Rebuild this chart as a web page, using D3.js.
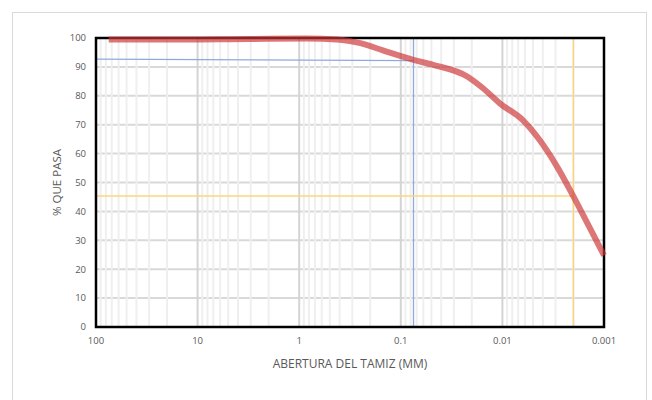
<!DOCTYPE html>
<html>
<head>
<meta charset="utf-8">
<script src="https://cdn.jsdelivr.net/npm/d3@7"></script>
<style>
  body { margin: 0; background: #fff; }
  svg { display: block; font-family: "Open Sans", "Liberation Sans", sans-serif; }
</style>
</head>
<body>
<div id="chart"></div>
<script>
// grain size curve (mm vs % passing)
const sizes = [75, 50, 37.5, 25, 19, 9.5, 4.75, 2, 0.85, 0.425, 0.25, 0.15, 0.075,
    0.048, 0.022, 0.0155, 0.0106, 0.0063, 0.0043, 0.0029, 0.002, 0.0014, 0.001];
const pasa = [99.5, 99.5, 99.5, 99.5, 99.5, 99.5, 99.6, 99.7, 99.8, 99.5, 98.2, 95.7, 92.4,
    90.7, 86.6, 82.6, 77.4, 71.6, 64.7, 55.5, 45.2, 34.7, 24.8];

// reference lines
const blueX = [100, 0.075];
const blueY = [92.7, 92.2];
const yellowSize = 0.002;
const yellowPasa = 45.3;

const xTicks = [100, 10, 1, 0.1, 0.01, 0.001];
const yTicks = [0, 10, 20, 30, 40, 50, 60, 70, 80, 90, 100];

const W = 652, H = 400;
const m = { left: 96, right: 48, top: 38, bottom: 73 };
const iw = W - m.left - m.right;
const ih = H - m.top - m.bottom;

const svg = d3.select("#chart").append("svg")
    .attr("width", W)
    .attr("height", H);

// outer frame
svg.append("rect")
    .attr("x", 12.5).attr("y", 12.5)
    .attr("width", 634).attr("height", 400)
    .attr("fill", "#fff")
    .attr("stroke", "#d9d9d9");

const g = svg.append("g")
    .attr("transform", "translate(" + m.left + "," + m.top + ")");

const x = d3.scaleLog().domain([100, 0.001]).range([0, iw]);
const y = d3.scaleLinear().domain([0, 100]).range([ih, 0]);

// horizontal grid
g.append("g").selectAll("line")
    .data(yTicks.slice(1, -1))
    .enter().append("line")
    .attr("x1", 0).attr("x2", iw)
    .attr("y1", d => y(d)).attr("y2", d => y(d))
    .attr("stroke", "#d9d9d9")
    .attr("stroke-width", 2);

// minor vertical grid
let minor = [];
for (let dec = 0.001; dec < 100; dec *= 10) {
    for (let k = 2; k <= 9; k++) minor.push(dec * k);
}
g.append("g").selectAll("line")
    .data(minor)
    .enter().append("line")
    .attr("x1", d => x(d)).attr("x2", d => x(d))
    .attr("y1", 0).attr("y2", ih)
    .attr("stroke", "#efefef")
    .attr("stroke-width", 2);

// major vertical grid
g.append("g").selectAll("line")
    .data(xTicks.slice(1, -1))
    .enter().append("line")
    .attr("x1", d => x(d)).attr("x2", d => x(d))
    .attr("y1", 0).attr("y2", ih)
    .attr("stroke", "#d4d4d4")
    .attr("stroke-width", 2);

// blue reference (No. 200)
g.append("path")
    .datum(blueX.map((d, i) => [d, blueY[i]]))
    .attr("fill", "none")
    .attr("stroke", "#8eaadb")
    .attr("stroke-width", 1.3)
    .attr("d", d3.line().x(d => x(d[0])).y(d => y(d[1])));
g.append("line")
    .attr("x1", x(blueX[1])).attr("x2", x(blueX[1]))
    .attr("y1", 0).attr("y2", ih)
    .attr("stroke", "#8eaadb")
    .attr("stroke-width", 1.3);

// yellow reference
g.append("line")
    .attr("x1", 0).attr("x2", x(yellowSize))
    .attr("y1", y(yellowPasa)).attr("y2", y(yellowPasa))
    .attr("stroke", "#fcd67a")
    .attr("stroke-width", 1.5);
g.append("line")
    .attr("x1", x(yellowSize)).attr("x2", x(yellowSize))
    .attr("y1", 0).attr("y2", ih)
    .attr("stroke", "#fcd67a")
    .attr("stroke-width", 1.5);

// plot border
g.append("rect")
    .attr("x", 0).attr("y", 0)
    .attr("width", iw).attr("height", ih)
    .attr("fill", "none")
    .attr("stroke", "#000")
    .attr("stroke-width", 2.5);

// granulometric curve
g.append("path")
    .datum(sizes.map((d, i) => [d, pasa[i]]))
    .attr("fill", "none")
    .attr("stroke", "rgb(205,55,55)")
    .attr("stroke-opacity", 0.68)
    .attr("stroke-width", 6)
    .attr("d", d3.line()
        .curve(d3.curveMonotoneX)
        .x(d => x(d[0]))
        .y(d => y(d[1]))
    );

// axis labels
g.append("g").selectAll("text")
    .data(yTicks)
    .enter().append("text")
    .attr("x", -10)
    .attr("y", d => y(d))
    .attr("dy", "0.35em")
    .attr("text-anchor", "end")
    .attr("font-size", 9.5)
    .attr("fill", "#595959")
    .text(d => d);

g.append("g").selectAll("text")
    .data(xTicks)
    .enter().append("text")
    .attr("x", d => x(d))
    .attr("y", ih + 17)
    .attr("text-anchor", "middle")
    .attr("font-size", 9.5)
    .attr("fill", "#595959")
    .text(d => d3.format("~g")(d));

svg.append("text")
    .attr("x", m.left + iw / 2)
    .attr("y", 368)
    .attr("text-anchor", "middle")
    .attr("font-size", 12)
    .attr("fill", "#595959")
    .text("ABERTURA DEL TAMIZ (MM)");

svg.append("text")
    .attr("transform", "translate(61," + (m.top + ih / 2) + ") rotate(-90)")
    .attr("text-anchor", "middle")
    .attr("font-size", 11.5)
    .attr("fill", "#595959")
    .text("% QUE PASA");
</script>
</body>
</html>
